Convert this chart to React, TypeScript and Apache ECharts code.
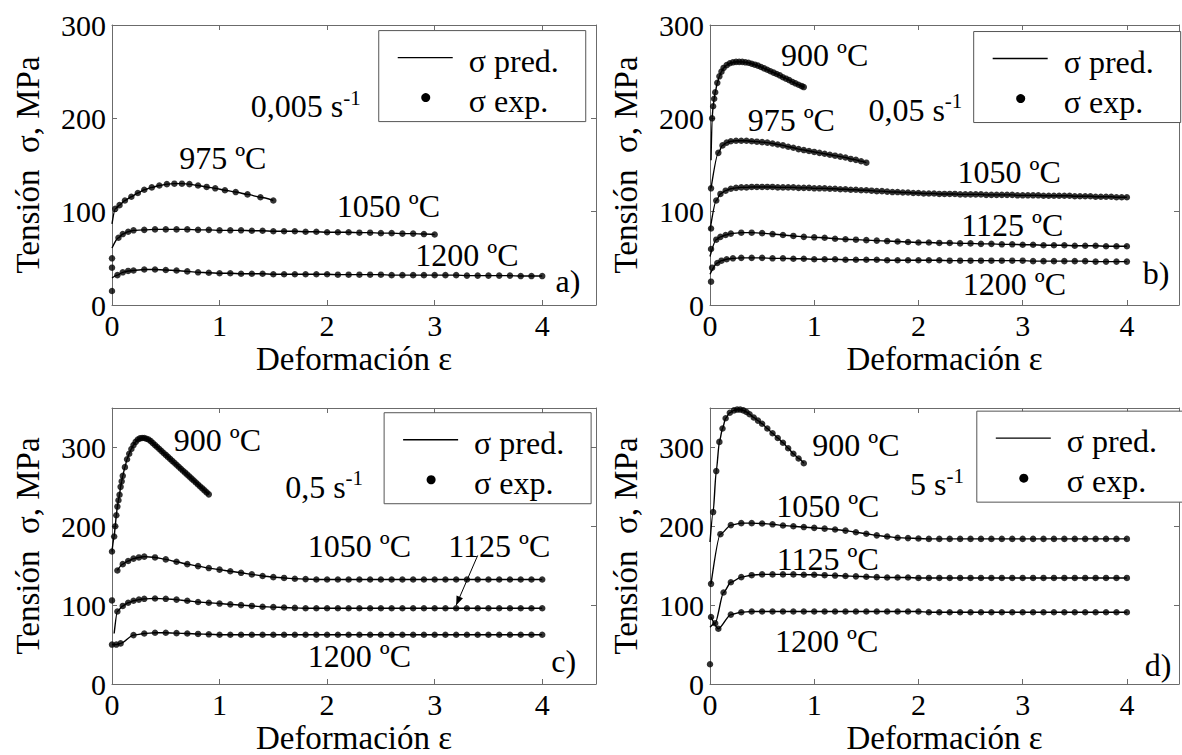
import React, { useEffect, useRef } from "react";
import * as echarts from "echarts";

const FONT = "'Liberation Serif', 'Times New Roman', serif";

// ---------- axis settings ----------
const X_MAX = 4.5;
const X_INTERVAL = 1;
const Y_MAX = [300, 300, 350, 350];
const Y_INTERVAL = 100;
const X_NAME = "Deformación ε";
const Y_NAME = "Tensión  σ, MPa";
const RATE_TEXTS = ["0,005 s", "0,05 s", "0,5 s", "5 s"];
const RATE_SUP = "-1";
const PANEL_TAGS = ["a)", "b)", "c)", "d)"];
const LEGEND_TEXTS = ["σ pred.", "σ exp."];

// ---------- shared strain samples ----------
const TAIL_3 = [0.3, 0.4, 0.5, 0.6, 0.7, 0.8, 0.9, 1.0, 1.1, 1.2, 1.3, 1.4, 1.5, 1.6, 1.7, 1.8, 1.9, 2.0, 2.1, 2.2, 2.3, 2.4, 2.5, 2.6, 2.7, 2.8, 2.9, 3.0];
const TAIL_4 = [0.3, 0.4, 0.5, 0.6, 0.7, 0.8, 0.9, 1.0, 1.1, 1.2, 1.3, 1.4, 1.5, 1.6, 1.7, 1.8, 1.9, 2.0, 2.1, 2.2, 2.3, 2.4, 2.5, 2.6, 2.7, 2.8, 2.9, 3.0, 3.1, 3.2, 3.3, 3.4, 3.5, 3.6, 3.7, 3.8, 3.9, 4.0];
const TAIL_4_FINE = [0.3, 0.35, 0.4, 0.45, 0.5, 0.55, 0.6, 0.65, 0.7, 0.75, 0.8, 0.85, 0.9, 0.95, 1, 1.05, 1.1, 1.15, 1.2, 1.25, 1.3, 1.35, 1.4, 1.45, 1.5, 1.55, 1.6, 1.65, 1.7, 1.75, 1.8, 1.85, 1.9, 1.95, 2, 2.05, 2.1, 2.15, 2.2, 2.25, 2.3, 2.35, 2.4, 2.45, 2.5, 2.55, 2.6, 2.65, 2.7, 2.75, 2.8, 2.85, 2.9, 2.95, 3, 3.05, 3.1, 3.15, 3.2, 3.25, 3.3, 3.35, 3.4, 3.45, 3.5, 3.55, 3.6, 3.65, 3.7, 3.75, 3.8, 3.85, 3.9, 3.95, 4];

// ---------- panel a: 0,005 s-1 ----------
const A975_X = [0, 0.03, 0.07, 0.12, 0.18, 0.24, 0.3, 0.37, 0.44, 0.51, 0.58, 0.65, 0.72, 0.8, 0.88, 0.96, 1.05, 1.15, 1.26, 1.38, 1.5];
const A975_Y = [50, 103, 107, 112, 116, 120, 123.5, 126, 128, 129.5, 130, 130, 129.5, 128, 126.5, 125, 123, 121, 118.5, 115.5, 112];
const A1050_X = [0, 0.06, 0.1, 0.15, 0.2, ...TAIL_3];
const A1050_Y = [40, 72, 76, 78.5, 80, 80.5, 81, 81, 81, 81, 80.5, 80.5, 80, 80, 80, 79.5, 79.5, 79, 79, 79, 78.5, 78.5, 78, 78, 78, 77.5, 77.5, 77, 77, 76.5, 76.5, 76, 75.5];
const A1200_X = [0, 0.05, 0.1, 0.15, 0.2, ...TAIL_4];
const A1200_Y = [15, 32, 35, 36.5, 37, 38, 38, 37.5, 37, 36, 35, 34.5, 34, 34, 33.5, 33.5, 33.5, 33, 33, 33, 33, 33, 33, 32.5, 32.5, 32.5, 32.5, 32.5, 32, 32, 32, 32, 32, 32, 32, 31.5, 31.5, 31.5, 31.5, 31.5, 31, 31, 31];

// ---------- panel b: 0,05 s-1 ----------
const B900_X = [0.02, 0.03, 0.04, 0.05, 0.07, 0.09, 0.11, 0.13, 0.16, 0.19, 0.22, 0.25, 0.28, 0.31, 0.34, 0.37, 0.4, 0.43, 0.46, 0.49, 0.52, 0.55, 0.58, 0.61, 0.64, 0.67, 0.7, 0.73, 0.76, 0.79, 0.82, 0.85, 0.88, 0.9];
const B900_Y = [200, 213, 221, 228, 238, 245, 250, 254, 257, 259, 260, 260.5, 260.5, 260.5, 260, 259.5, 258.5, 257.5, 256.5, 255, 253.5, 252, 250.5, 249, 247.5, 246, 244, 242.5, 241, 239, 237.5, 236, 234.5, 233.5];
const B975_X = [0.01, 0.08, 0.12, 0.16, 0.2, 0.25, 0.3, 0.35, 0.4, 0.45, 0.5, 0.55, 0.6, 0.65, 0.7, 0.75, 0.8, 0.85, 0.9, 0.95, 1.0, 1.05, 1.1, 1.15, 1.2, 1.25, 1.3, 1.35, 1.4, 1.45, 1.5];
const B975_Y = [125, 163, 171, 174, 175.5, 176, 176, 176, 175.5, 175, 174.5, 174, 173, 172, 171, 169.5, 168.5, 167, 166, 165, 164, 163, 162, 161, 160, 159, 158, 156.5, 155.5, 154, 152.5];
const B1050_X = [0.01, 0.06, 0.1, 0.15, 0.2, 0.25, ...TAIL_4_FINE];
const B1050_Y = [82, 112, 119, 122.5, 124.5, 125.5,
  126, 126, 126.5, 126.5, 126.5, 126.5, 126.5, 126, 126, 126,
  126, 125.5, 125.5, 125.5, 125, 125, 125, 124.5, 124.5, 124,
  124, 123.5, 123.5, 123, 123, 122.5, 122, 122, 121.5, 121,
  121, 120.5, 120.5, 120, 120, 119.5, 119.5, 119.5, 119, 119,
  119, 119, 118.5, 118.5, 118.5, 118.5, 118.5, 118, 118, 118,
  118, 118, 118, 117.5, 117.5, 117.5, 117.5, 117.5, 117, 117,
  117, 117, 117, 117, 116.5, 116.5, 116.5, 116.5, 116, 116,
  116, 116, 115.5, 115.5, 115.5];
const B1125_X = [0.01, 0.06, 0.1, 0.15, 0.2, ...TAIL_4];
const B1125_Y = [60, 70, 73, 75, 76.5, 77.5, 77.5, 77, 76, 75, 74, 73, 72.5, 72, 71, 70.5, 70, 69.5, 69, 68.5, 68, 67.5, 67, 67, 66.5, 66.5, 66, 66, 65.5, 65.5, 65, 65, 64.5, 64.5, 64, 64, 64, 63.5, 63.5, 63.5, 63, 63, 63];
const B1200_X = [0.01, 0.02, 0.07, 0.11, 0.16, 0.22, ...TAIL_4];
const B1200_Y = [25, 40, 45, 47.5, 49, 50, 50.5, 50.5, 50.5, 50, 50, 49.5, 49.5, 49, 49, 49, 48.5, 48.5, 48.5, 48.5, 48, 48, 48, 48, 48, 48, 47.5, 47.5, 47.5, 47.5, 47.5, 47.5, 47.5, 47.5, 47, 47, 47, 47, 47, 47, 46.5, 46.5, 46.5, 46.5];

// ---------- panel c: 0,5 s-1 ----------
const C900_X = [0, 0.02, 0.03, 0.04, 0.05, 0.06, 0.07, 0.08, 0.09, 0.1, 0.12, 0.14, 0.16, 0.18, 0.2, 0.22, 0.24, 0.26, 0.28, 0.3, 0.32, 0.34, 0.36, 0.38, 0.4, 0.42, 0.44, 0.46, 0.48, 0.5, 0.52, 0.54, 0.56, 0.58, 0.6, 0.62, 0.64, 0.66, 0.68, 0.7, 0.72, 0.74, 0.76, 0.78, 0.8, 0.82, 0.84, 0.86, 0.88, 0.9];
const C900_Y = [168, 187, 200, 214, 225, 233, 240, 250, 257, 264, 275, 285, 292, 298, 303, 307, 310, 311.5, 312, 312, 311, 310, 308, 305.5, 303, 300.5, 298, 295.5, 293, 290.5, 288, 285.5, 283, 280.5, 278, 275.5, 273, 270.5, 268, 265.5, 263, 260.5, 258, 255.5, 253, 250.5, 248, 245.5, 243, 240.5];
const C1050_X = [0.05, 0.1, 0.15, 0.2, 0.25, ...TAIL_4];
const C1050_Y = [144, 152, 156, 159, 160.5, 161.5, 160.5, 158, 155, 152, 149.5, 147, 145, 143, 141, 139, 137, 135.5, 134.5, 133.5, 133, 132.5, 132.5, 132.5, 132.5, 132.5, 132.5, 132.5, 132.5, 132.5, 132.5, 132.5, 132.5, 132.5, 132.5, 132.5, 132.5, 132.5, 132.5, 132.5, 132.5, 132.5, 132.5];
const C1125_X = [0, 0.05, 0.1, 0.15, 0.2, 0.25, ...TAIL_4];
const C1125_Y = [106, 92, 99, 103, 105.5, 107, 108, 108.5, 108, 107, 105.5, 104, 103, 102, 101, 100, 99, 98, 97.5, 97, 96.5, 96, 96, 96, 96, 96, 96, 96, 96, 96, 96, 96, 96, 96, 96, 96, 96, 96, 96, 96, 96, 96, 96, 96];
const C1200_X = [0, 0.04, 0.08, 0.2, ...TAIL_4];
const C1200_Y = [50, 50, 51.5, 62, 64, 65, 65, 64.5, 64, 63.5, 63, 62.5, 62.5, 62.5, 62.5, 62.5, 62.5, 62.5, 62.5, 62.5, 62.5, 62.5, 62.5, 62.5, 62.5, 62.5, 62.5, 62.5, 62.5, 62.5, 62.5, 62.5, 62.5, 62.5, 62.5, 62.5, 62.5, 62.5, 62.5, 62.5, 62.5, 62.5];

// ---------- panel d: 5 s-1 ----------
const D900_X = [0.03, 0.06, 0.09, 0.12, 0.15, 0.19, 0.23, 0.26, 0.29, 0.32, 0.35, 0.38, 0.42, 0.46, 0.5, 0.55, 0.6, 0.65, 0.7, 0.75, 0.8, 0.85, 0.9];
const D900_Y = [218, 270, 307, 324, 337, 344, 347, 348, 348, 347, 345, 342, 338, 334, 330, 324, 318, 312, 306, 299, 292, 286, 280];
const D1050_X = [0.01, 0.1, 0.2, ...TAIL_4];
const D1050_Y = [127, 190, 201.5, 204, 204, 203.5, 202.5, 201, 200, 199, 198, 197, 196, 194.5, 192.5, 190.5, 188.5, 187, 185.5, 185, 184.5, 184, 184, 184, 184, 184, 184, 184, 184, 184, 184, 184, 184, 184, 184, 184, 184, 184, 184, 184, 184];
const D1125_X = [0.05, 0.13, 0.2, ...TAIL_4];
const D1125_Y = [77, 116, 129, 135.5, 138, 139, 139, 139, 139, 138.5, 138.5, 138, 137.5, 137, 136.5, 136, 135.5, 135, 135, 135, 134.5, 134.5, 134.5, 134.5, 134.5, 134.5, 134.5, 134.5, 134.5, 134.5, 134.5, 134.5, 134.5, 134.5, 134.5, 134.5, 134.5, 134.5, 134.5, 134.5, 134.5];
const D1200_X = [0, 0.01, 0.08, 0.2, ...TAIL_4];
const D1200_Y = [25, 85, 70, 88, 91, 92, 92, 92, 92, 92, 92, 92, 92, 92, 92, 92, 92, 92, 92, 92, 92, 92, 91, 91, 91, 91, 91, 91, 91, 91, 91, 91, 91, 91, 91, 91, 91, 91, 91, 91, 91, 91];

// curve table: panel, experimental points, predicted-line start and leading exp points not on the line
type Curve = { panel: number; xs: number[]; ys: number[]; start: number[] | null; skip: number };
const CURVES: Curve[] = [
  { panel: 0, xs: A975_X, ys: A975_Y, start: [0, 87], skip: 1 },
  { panel: 0, xs: A1050_X, ys: A1050_Y, start: [0, 61], skip: 1 },
  { panel: 0, xs: A1200_X, ys: A1200_Y, start: [0, 29], skip: 1 },
  { panel: 1, xs: B900_X, ys: B900_Y, start: [0.01, 155], skip: 0 },
  { panel: 1, xs: B975_X, ys: B975_Y, start: null, skip: 0 },
  { panel: 1, xs: B1050_X, ys: B1050_Y, start: [0, 80], skip: 1 },
  { panel: 1, xs: B1125_X, ys: B1125_Y, start: [0, 52], skip: 1 },
  { panel: 1, xs: B1200_X, ys: B1200_Y, start: [0, 33], skip: 2 },
  { panel: 2, xs: C900_X, ys: C900_Y, start: null, skip: 0 },
  { panel: 2, xs: C1050_X, ys: C1050_Y, start: null, skip: 0 },
  { panel: 2, xs: C1125_X, ys: C1125_Y, start: [0.02, 64], skip: 1 },
  { panel: 2, xs: C1200_X, ys: C1200_Y, start: null, skip: 0 },
  { panel: 3, xs: D900_X, ys: D900_Y, start: [0, 180], skip: 0 },
  { panel: 3, xs: D1050_X, ys: D1050_Y, start: null, skip: 0 },
  { panel: 3, xs: D1125_X, ys: D1125_Y, start: [0, 72], skip: 0 },
  { panel: 3, xs: D1200_X, ys: D1200_Y, start: null, skip: 1 },
];

// temperature labels: panel, text, strain (centre), stress (centre)
const TEMP_LABELS: [number, string, number, number][] = [
  [0, "975 ºC", 1.03, 158],
  [0, "1050 ºC", 2.57, 106],
  [0, "1200 ºC", 3.3, 54],
  [1, "900 ºC", 1.1, 268],
  [1, "975 ºC", 0.78, 198],
  [1, "1050 ºC", 2.87, 143],
  [1, "1125 ºC", 2.9, 86],
  [1, "1200 ºC", 2.92, 23],
  [2, "900 ºC", 0.98, 310],
  [2, "1050 ºC", 2.3, 175],
  [2, "1125 ºC", 3.6, 175],
  [2, "1200 ºC", 2.3, 35],
  [3, "900 ºC", 1.4, 303],
  [3, "1050 ºC", 1.13, 226],
  [3, "1125 ºC", 1.13, 158],
  [3, "1200 ºC", 1.12, 55],
];
const TAG_POS = [[4.24, 26], [4.28, 34], [4.2, 29], [4.3, 24]];
const RATE_POS = [[1.29, 213], [1.52, 209], [1.61, 250], [1.92, 253]];
const LEGEND_POS = [[2.48, 294], [2.53, 293], [2.53, 344], [2.56, 346]];
const ARROW_C = [[3.4, 163], [3.2, 100]];

// layout
const GRID_POS = [[112, 25], [710, 25], [112, 408], [710, 408]];
const GRID_W = 484;
const GRID_H = 280;
const AXIS_COLOR = "#6b6b6b";

function pairs(xs: number[], ys: number[]) {
  const n = Math.min(xs.length, ys.length);
  const out: number[][] = [];
  for (let i = 0; i < n; i++) out.push([xs[i], ys[i]]);
  return out;
}

export default function App() {
  const ref = useRef<HTMLDivElement>(null);
  useEffect(() => {
    if (!ref.current) return;
    const chart = echarts.init(ref.current, undefined, { renderer: "svg" });

    const grid: any[] = [];
    const xAxis: any[] = [];
    const yAxis: any[] = [];
    for (let p = 0; p < 4; p++) {
      grid.push({ left: GRID_POS[p][0], top: GRID_POS[p][1], width: GRID_W, height: GRID_H, containLabel: false });
      const lineStyle = { color: AXIS_COLOR, width: 1 };
      xAxis.push({
        gridIndex: p, type: "value", position: "bottom", min: 0, max: X_MAX, interval: X_INTERVAL,
        name: X_NAME, nameLocation: "middle", nameGap: 37,
        nameTextStyle: { fontFamily: FONT, fontSize: 33, color: "#000" },
        axisLine: { show: true, onZero: false, lineStyle },
        axisTick: { show: true, inside: true, length: 5, lineStyle },
        axisLabel: { fontFamily: FONT, fontSize: 30, color: "#000", margin: 5,
          formatter: (v: number) => (Number.isInteger(v) ? String(v) : "") },
        splitLine: { show: false },
      });
      xAxis.push({
        gridIndex: p, type: "value", position: "top", min: 0, max: X_MAX, interval: X_INTERVAL,
        axisLine: { show: true, onZero: false, lineStyle },
        axisTick: { show: true, inside: true, length: 5, lineStyle },
        axisLabel: { show: false }, splitLine: { show: false },
      });
      yAxis.push({
        gridIndex: p, type: "value", position: "left", min: 0, max: Y_MAX[p], interval: Y_INTERVAL,
        name: Y_NAME, nameLocation: "middle", nameGap: 68,
        nameTextStyle: { fontFamily: FONT, fontSize: 33, color: "#000" },
        axisLine: { show: true, onZero: false, lineStyle },
        axisTick: { show: true, inside: true, length: 5, lineStyle },
        axisLabel: { fontFamily: FONT, fontSize: 30, color: "#000", margin: 6,
          formatter: (v: number) => (v % Y_INTERVAL === 0 ? String(v) : "") },
        splitLine: { show: false },
      });
      yAxis.push({
        gridIndex: p, type: "value", position: "right", min: 0, max: Y_MAX[p], interval: Y_INTERVAL,
        axisLine: { show: true, onZero: false, lineStyle },
        axisTick: { show: true, inside: true, length: 5, lineStyle },
        axisLabel: { show: false }, splitLine: { show: false },
      });
    }

    const series: any[] = [];
    CURVES.forEach((c) => {
      const pts = pairs(c.xs, c.ys);
      const lineData = c.start ? [c.start, ...pts.slice(c.skip)] : pts.slice(c.skip);
      series.push({
        type: "line", xAxisIndex: c.panel * 2, yAxisIndex: c.panel * 2, data: lineData,
        symbol: "none", showSymbol: false, smooth: 0.25, smoothMonotone: "x",
        lineStyle: { color: "#000", width: 1.4 }, silent: true, z: 2,
      });
      series.push({
        type: "scatter", xAxisIndex: c.panel * 2, yAxisIndex: c.panel * 2, data: pts,
        symbol: "circle", symbolSize: 6.5, itemStyle: { color: "#000" }, silent: true, z: 3,
      });
    });

    chart.setOption({
      animation: false,
      backgroundColor: "#fff",
      textStyle: { fontFamily: FONT },
      grid, xAxis, yAxis, series,
    });

    const px = (p: number, x: number, y: number): number[] =>
      chart.convertToPixel({ xAxisIndex: p * 2, yAxisIndex: p * 2 } as any, [x, y]) as number[];

    const txt = (x: number, y: number, text: string, align = "center", size = 32) => ({
      type: "text", x, y, z: 20,
      style: { text, fontFamily: FONT, fontSize: size, fill: "#000",
        align, verticalAlign: "middle", textAlign: align, textVerticalAlign: "middle" },
    });

    const graphic: any[] = [];
    TEMP_LABELS.forEach(([p, t, x, y]) => {
      const [gx, gy] = px(p, x, y);
      graphic.push(txt(gx, gy, t));
    });
    for (let p = 0; p < 4; p++) {
      const [tx, ty] = px(p, TAG_POS[p][0], TAG_POS[p][1]);
      graphic.push(txt(tx, ty, PANEL_TAGS[p]));
      const [rx, ry] = px(p, RATE_POS[p][0], RATE_POS[p][1]);
      graphic.push({
        type: "text", x: rx, y: ry, z: 20,
        style: {
          text: `{n|${RATE_TEXTS[p]}}{s|${RATE_SUP}}`,
          align: "left", verticalAlign: "middle", textAlign: "left", textVerticalAlign: "middle",
          rich: {
            n: { fontFamily: FONT, fontSize: 32, fill: "#000", lineHeight: 38 },
            s: { fontFamily: FONT, fontSize: 21, fill: "#000", verticalAlign: "top", lineHeight: 18 },
          },
        },
      });
      // legend box
      const [lx, ly] = px(p, LEGEND_POS[p][0], LEGEND_POS[p][1]);
      graphic.push({ type: "rect", z: 15, shape: { x: lx, y: ly, width: 207, height: 91 },
        style: { fill: "#fff", stroke: "#555", lineWidth: 1 } });
      graphic.push({ type: "line", z: 16, shape: { x1: lx + 19, y1: ly + 27, x2: lx + 74, y2: ly + 27 },
        style: { stroke: "#000", lineWidth: 1.4 } });
      graphic.push(txt(lx + 90, ly + 30, LEGEND_TEXTS[0], "left", 32));
      graphic.push({ type: "circle", z: 16, shape: { cx: lx + 47, cy: ly + 67, r: 4.5 }, style: { fill: "#000" } });
      graphic.push(txt(lx + 90, ly + 70, LEGEND_TEXTS[1], "left", 32));
    }
    // arrow in panel c
    const [ax1, ay1] = px(2, ARROW_C[0][0], ARROW_C[0][1]);
    const [ax2, ay2] = px(2, ARROW_C[1][0], ARROW_C[1][1]);
    graphic.push({ type: "line", z: 16, shape: { x1: ax1, y1: ay1, x2: ax2, y2: ay2 }, style: { stroke: "#000", lineWidth: 1 } });
    const ang = Math.atan2(ay2 - ay1, ax2 - ax1);
    const hl = 9, hw = 3.5;
    const bx = ax2 - hl * Math.cos(ang), by = ay2 - hl * Math.sin(ang);
    graphic.push({
      type: "polygon", z: 16,
      shape: { points: [[ax2, ay2], [bx - hw * Math.sin(ang), by + hw * Math.cos(ang)], [bx + hw * Math.sin(ang), by - hw * Math.cos(ang)]] },
      style: { fill: "#000" },
    });

    chart.setOption({ graphic });

    return () => chart.dispose();
  }, []);

  return (
    <div
      ref={ref}
      style={{ position: "absolute", left: 0, top: 0, width: 1182, height: 755, background: "#fff" }}
    />
  );
}
